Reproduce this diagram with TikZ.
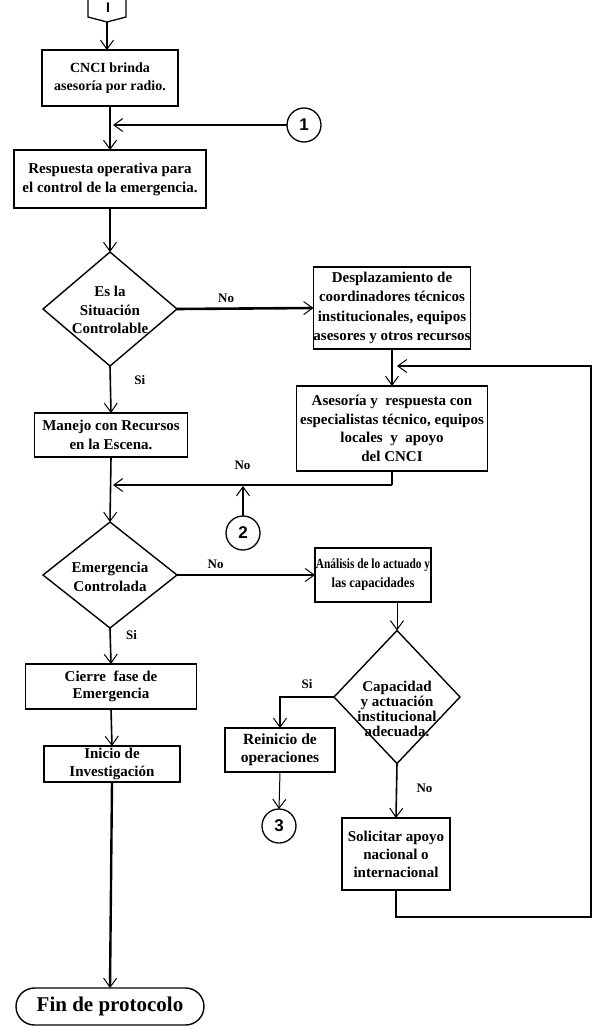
\documentclass[tikz,border=0pt]{standalone}
\usepackage{fontspec}
\usepackage{graphicx}
\setmainfont{Liberation Serif}
\newfontfamily\digitfont{Liberation Sans}
\usetikzlibrary{arrows.meta,shapes.geometric,shapes.misc}
\begin{document}
\begin{tikzpicture}[x=1pt,y=-1pt,
  every node/.style={inner sep=0pt,outer sep=0pt},
  txt/.style={font=\fontsize{15}{18.5}\selectfont\bfseries,align=center},
  procbox/.style={draw,line width=1.6pt,rectangle,txt},
  decis/.style={draw,line width=1.4pt,diamond},
  conn/.style={draw,line width=1.3pt,circle,minimum size=34pt,font=\digitfont\fontsize{17}{17}\selectfont\bfseries},
  lab/.style={font=\fontsize{13}{14}\selectfont\bfseries},
  flow/.style={line width=1.6pt,-{Straight Barb[length=9pt,width=13pt,line width=1pt]}},
  line/.style={line width=1.6pt}]
\useasboundingbox (0,0) rectangle (602,1034);
% off-page connector at top
\draw[line width=1.3pt] (88,-2) -- (88,17) -- (107,22) coordinate (ptip) -- (126,17) -- (126,-2);
\node[font=\digitfont\fontsize{14}{14}\selectfont\bfseries] (ptxt) at (108,7.5) {I};
% nodes
\node[procbox,minimum width=136pt,minimum height=56pt,font=\fontsize{14}{18.5}\selectfont\bfseries] (b1) at (110,78) {CNCI brinda\\asesoría por radio.};
\node[conn] (c1) at (304,125) {1};
\node[procbox,minimum width=192pt,minimum height=58pt,font=\fontsize{15}{19}\selectfont\bfseries] (b2) at (110,179) {Respuesta operativa para\\el control de la emergencia.};
\node[decis,minimum width=134pt,minimum height=114pt] (d1) at (110,309) {};
\node[txt] (d1t) at (110,310) {Es la\\Situación\\Controlable};
\node[procbox,minimum width=154pt,minimum height=82pt,font=\fontsize{15}{19.3}\selectfont\bfseries] (b3) at (392,308) {Desplazamiento de\\coordinadores técnicos\\institucionales, equipos\\asesores y otros recursos};
\node[procbox,minimum width=153pt,minimum height=44pt] (b4) at (111,435) {Manejo con Recursos\\en la Escena.};
\node[procbox,minimum width=191pt,minimum height=85pt] (b5) at (392,428.5) {Asesoría y\ \ respuesta con\\especialistas técnico, equipos\\locales\ \ y\ \ apoyo\\del CNCI};
\node[conn] (c2) at (243,533) {2};
\node[decis,minimum width=134pt,minimum height=106pt] (d2) at (110,575) {};
\node[txt] (d2t) at (110,577) {Emergencia\\Controlada};
\node[procbox,minimum width=116pt,minimum height=54pt,font=\fontsize{14}{19}\selectfont\bfseries] (b6) at (373,575) {\scalebox{0.81}[1]{Análisis de lo actuado y}\\\scalebox{0.9}[1]{las capacidades}};
\node[procbox,minimum width=171pt,minimum height=45pt,font=\fontsize{15}{17.5}\selectfont\bfseries] (b7) at (111,686.5) {Cierre\ \ fase de\\Emergencia};
\node[procbox,minimum width=136pt,minimum height=36pt,font=\fontsize{15}{17.5}\selectfont\bfseries] (b8) at (112,764) {Inicio de\\Investigación};
\node[decis,minimum width=126pt,minimum height=133pt] (d3) at (397,697) {};
\node[txt,font=\fontsize{15}{15.2}\selectfont\bfseries] (d3t) at (397,709) {Capacidad\\y actuación\\institucional\\adecuada.};
\node[procbox,minimum width=110pt,minimum height=44pt,font=\fontsize{15.5}{18}\selectfont\bfseries] (b9) at (280,750) {Reinicio de\\operaciones};
\node[conn] (c3) at (279,826) {3};
\node[procbox,minimum width=108pt,minimum height=72pt,font=\fontsize{15}{18}\selectfont\bfseries] (b10) at (396,854) {Solicitar apoyo\\nacional o\\internacional};
\node[draw,line width=1.4pt,rounded rectangle,minimum width=188pt,minimum height=37pt,font=\fontsize{21}{22}\selectfont\bfseries] (fin) at (110,1006.5) {Fin de protocolo};
% coordinates
\coordinate (j1) at (110,125);
\coordinate (j2a) at (392,485);
\coordinate (j2) at (110,485);
\coordinate (lp1) at (396,917);
\coordinate (lp2) at (591,917);
\coordinate (lp3) at (591,366);
\coordinate (lp4) at (392,366);
% connectors
\draw[flow] (ptip) -- (ptip |- b1.north);
\draw[flow] (b1.south) -- (b2.north);
\draw[flow,shorten >=3pt] (c1.west) -- (j1);
\draw[flow] (b2.south) -- (d1.north);
\draw[flow,line width=2.6pt] (d1.east) -- node[lab,above=6pt,pos=0.36] (lno1) {No} (b3.west);
\draw[flow] (d1.south) -- node[lab,right=24pt,pos=0.3] (lsi1) {Si} (b4.north);
\draw[flow] (b3.south) -- (b5.north);
\draw[flow] (b4.south) -- (d2.north);
\draw[line] (b5.south) -- (j2a);
\draw[flow,shorten >=3pt] (j2a) -- node[lab,above=15pt,pos=0.53] (lno2) {No} (j2);
\draw[flow,shorten >=1pt] (c2.north) -- (c2.north |- j2);
\draw[flow,line width=1.3pt] (d2.east) -- node[lab,above=6pt,pos=0.28] (lno3) {No} (b6.west);
\draw[flow] (d2.south) -- node[lab,right=16pt,pos=0.2] (lsi2) {Si} (b7.north);
\draw[flow] (b7.south) -- (b8.north);
\draw[flow,line width=2.4pt] (b8.south) -- (fin.north);
\draw[flow,line width=1pt] (d3.north |- b6.south) -- (d3.north);
\draw[flow,line width=1.3pt] (d3.west) -| node[lab,above=8pt,pos=0.25] (lsi3) {Si} (b9.north);
\draw[flow,line width=1pt] (b9.south) -- (c3.north);
\draw[flow] (d3.south) -- node[lab,right=20pt,pos=0.45] (lno4) {No} (b10.north);
\draw[flow,shorten >=5pt] (b10.south) -- (lp1) -- (lp2) -- (lp3) -- (lp4);
\end{tikzpicture}
\end{document}
